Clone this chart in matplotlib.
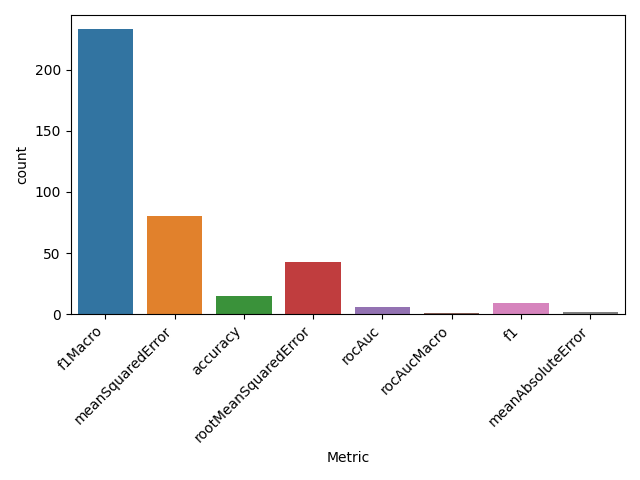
import matplotlib
matplotlib.use("Agg")
import matplotlib.pyplot as plt
import seaborn as sns
import pandas as pd

metrics = ['f1Macro', 'meanSquaredError', 'accuracy', 'rootMeanSquaredError',
           'rocAuc', 'rocAucMacro', 'f1', 'meanAbsoluteError']
counts = [233, 80, 15, 43, 6, 1, 9, 2]

df = pd.DataFrame({'Metric': metrics, 'count': counts})

fig, ax = plt.subplots(figsize=(6.4, 4.8), dpi=100)
sns.barplot(data=df, x='Metric', y='count', hue='Metric', palette='tab10',
            legend=False, ax=ax)
plt.setp(ax.get_xticklabels(), rotation=45, ha='right')
plt.tight_layout()
plt.savefig('out.png')
